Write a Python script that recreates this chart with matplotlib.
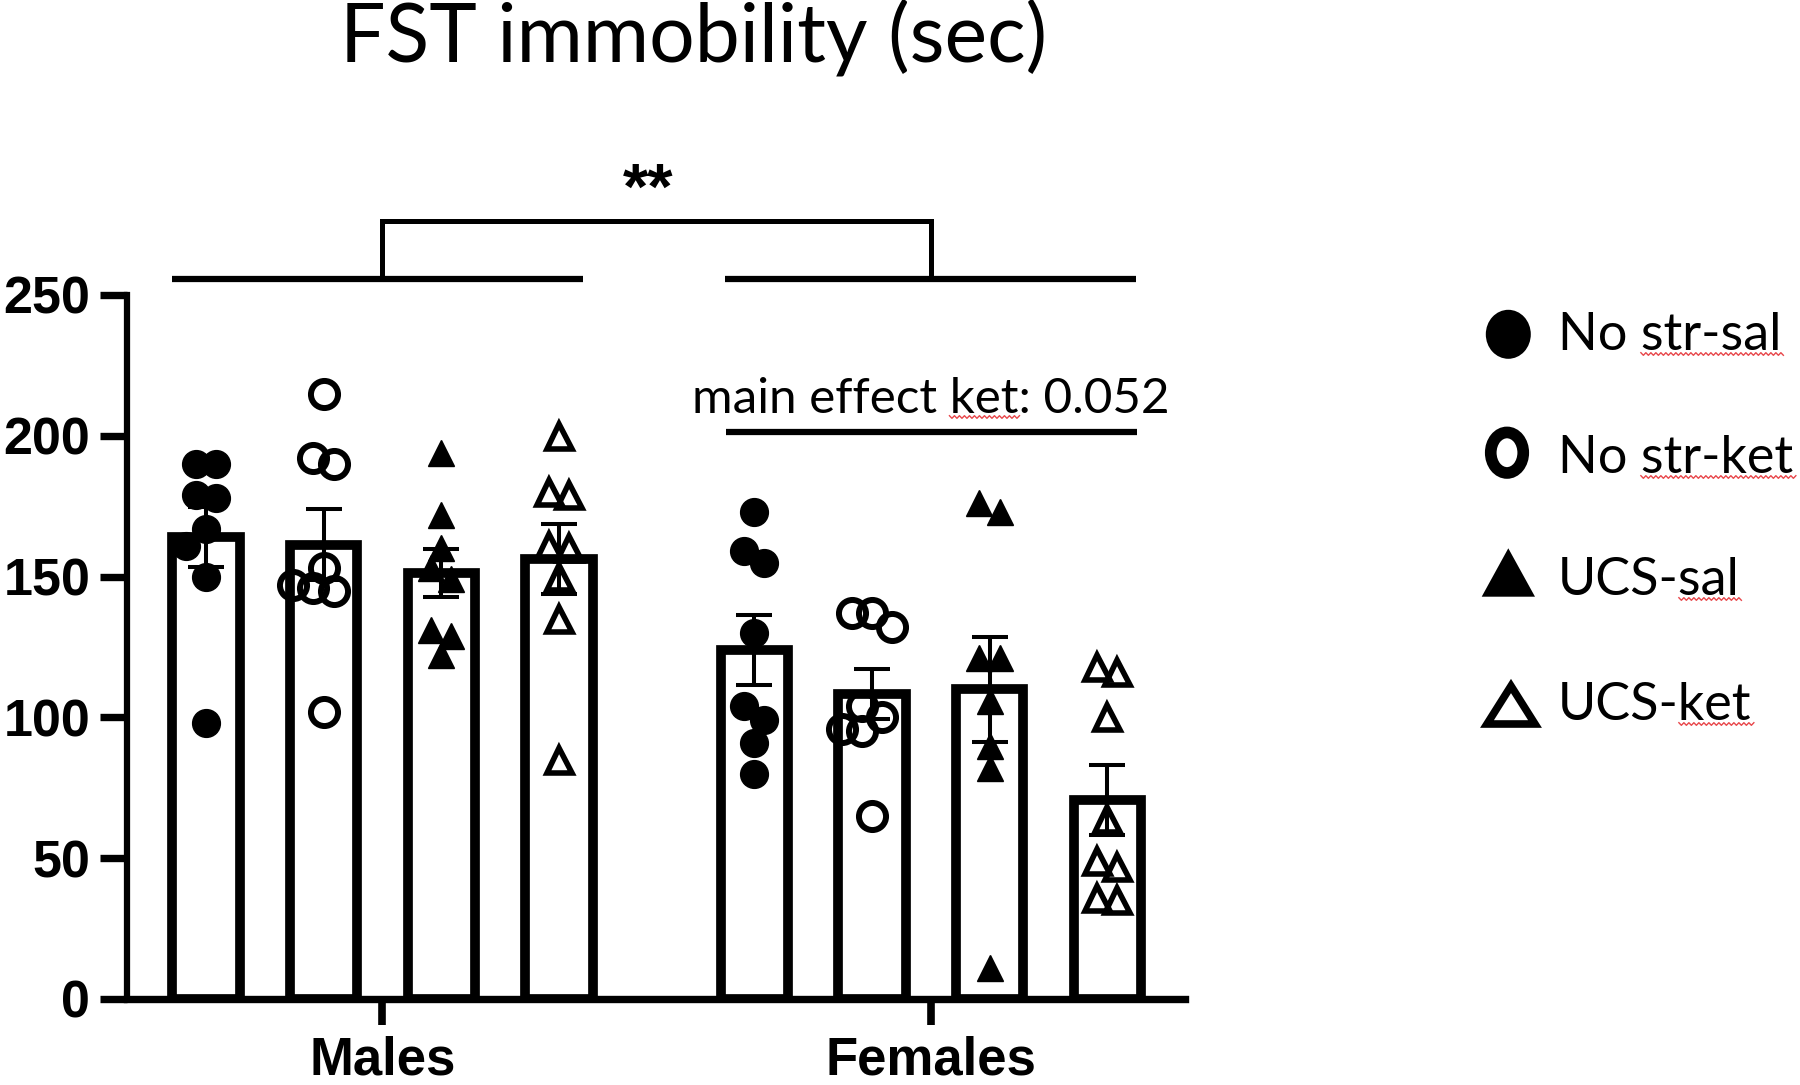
import numpy as np
import matplotlib
matplotlib.use('Agg')
import matplotlib.pyplot as plt
from matplotlib.patches import Ellipse, Polygon
from matplotlib.lines import Line2D
from matplotlib.transforms import IdentityTransform

# ---------------- data ----------------
groups = ['Males', 'Females']
conditions = ['No str-sal', 'No str-ket', 'UCS-sal', 'UCS-ket']

males_nostr_sal = [190, 190, 179, 178, 167, 161, 150, 98]
males_nostr_ket = [215, 192, 190, 153, 147, 146, 145, 102]
males_ucs_sal = [194, 172, 160, 153, 149, 131, 129, 122]
males_ucs_ket = [200, 180, 179, 161, 160, 150, 135, 85]

females_nostr_sal = [173, 159, 155, 130, 104, 99, 91, 80]
females_nostr_ket = [137, 137, 132, 104, 100, 96, 95, 65]
females_ucs_sal = [176, 173, 121, 121, 106, 90, 82, 11]
females_ucs_ket = [118, 116, 100, 64, 49, 47, 36, 35]

yticks = [0, 50, 100, 150, 200, 250]
title_text = 'FST immobility (sec)'
sig_text = '**'
ket_text = 'main effect ket: 0.052'

series = [males_nostr_sal, males_nostr_ket, males_ucs_sal, males_ucs_ket,
          females_nostr_sal, females_nostr_ket, females_ucs_sal, females_ucs_ket]

# ---------------- layout ----------------
W, H = 1800, 1085
fig = plt.figure(figsize=(W / 100, H / 100), dpi=100)
fig.patch.set_facecolor('white')


def fx(px):
    return px / W


def fy(py):
    return 1 - py / H


ax_left, ax_right, ax_bottom, ax_top = 127, 1185, 999, 295
ax = fig.add_axes([fx(ax_left), fy(ax_bottom), (ax_right - ax_left) / W, (ax_bottom - ax_top) / H])
xlim = (-0.67, 8.32)
ylim = (0, 250)
ax.set_xlim(*xlim)
ax.set_ylim(*ylim)

gap = 4.66
positions = list(np.arange(4)) + list(gap + np.arange(4))
group_centers = [1.5, gap + 1.5]

ppx = (ax_right - ax_left) / (xlim[1] - xlim[0])
ppy = (ax_bottom - ax_top) / (ylim[1] - ylim[0])

SANS_BOLD = 'Liberation Sans'
TEXT_FONT = 'Lato'


def swarm(vals, diam_px):
    """Row-based beeswarm offsets (in data x units)."""
    vals = np.asarray(vals, float)
    order = np.argsort(-vals, kind='stable')
    offs = np.zeros(len(vals))
    placed = []
    thr = 0.5 * diam_px / ppy
    sp = 0.7 * diam_px
    mind = 0.75 * diam_px
    i = 0
    while i < len(order):
        row = [order[i]]
        j = i + 1
        while j < len(order) and vals[order[i]] - vals[order[j]] < thr:
            row.append(order[j])
            j += 1
        n = len(row)
        base = [(k - (n - 1) / 2) * sp for k in range(n)]
        shifts = [0]
        for k in range(1, 12):
            shifts += [-k * sp / 2, k * sp / 2]
        for s in shifts:
            ok = True
            for idx, b in zip(row, base):
                for (px, py) in placed:
                    if np.hypot(b + s - px, vals[idx] * ppy - py) < mind:
                        ok = False
                        break
                if not ok:
                    break
            if ok:
                break
        for idx, b in zip(row, base):
            offs[idx] = (b + s) / ppx
            placed.append((b + s, vals[idx] * ppy))
        i = j
    return offs


marker_styles = [
    dict(marker='o', markerfacecolor='black', markeredgecolor='black', markersize=20, markeredgewidth=1),
    dict(marker='o', markerfacecolor='none', markeredgecolor='black', markersize=19.5, markeredgewidth=4.3),
    dict(marker='^', markerfacecolor='black', markeredgecolor='black', markersize=19, markeredgewidth=1),
    dict(marker='^', markerfacecolor='none', markeredgecolor='black', markersize=18, markeredgewidth=4.0),
]

bar_width = 0.573
for k, (pos, vals) in enumerate(zip(positions, series)):
    vals = np.asarray(vals, float)
    mean = vals.mean()
    sem = vals.std(ddof=1) / np.sqrt(len(vals))
    ax.bar(pos, mean, width=bar_width, facecolor='white', edgecolor='black',
           linewidth=7, zorder=1)
    st = marker_styles[k % 4]
    offs = swarm(vals, 29)
    ax.plot(pos + offs, vals, linestyle='none', zorder=2, clip_on=False, **st)
    ax.errorbar(pos, mean, yerr=sem, fmt='none', ecolor='black', elinewidth=2.9,
                capsize=13.3, capthick=2.9, zorder=3, clip_on=False)

# axes styling
for s in ['top', 'right']:
    ax.spines[s].set_visible(False)
ax.spines['left'].set_linewidth(4.5)
ax.spines['bottom'].set_linewidth(5.3)
ax.set_yticks(yticks)
ax.set_yticklabels([str(v) for v in yticks])
ax.set_xticks(group_centers)
ax.set_xticklabels(groups)
ax.tick_params(axis='y', length=19.4, width=5.3, pad=7, labelsize=37.5)
ax.tick_params(axis='x', length=19, width=5.5, pad=7.5, labelsize=38)
for lbl in ax.get_yticklabels() + ax.get_xticklabels():
    lbl.set_fontweight('bold')
    lbl.set_family(SANS_BOLD)

# significance annotations
lw_sig = 4.5
line_y = 255.7
bracket_y = 276.3
ax.plot([-0.287, 3.205], [line_y, line_y], color='black', lw=lw_sig, clip_on=False, solid_capstyle='butt')
ax.plot([4.41, 7.90], [line_y, line_y], color='black', lw=lw_sig, clip_on=False, solid_capstyle='butt')
ax.plot([group_centers[0], group_centers[0], group_centers[1], group_centers[1]],
        [line_y, bracket_y, bracket_y, line_y], color='black', lw=3.6, clip_on=False,
        solid_joinstyle='miter')
ax.text(3.757, 286.5, sig_text, ha='center', va='center', fontsize=47, fontweight='bold',
        family=SANS_BOLD, clip_on=False)

ket_line_y = 201.5
ax.plot([4.417, 7.91], [ket_line_y, ket_line_y], color='black', lw=4.5, clip_on=False, solid_capstyle='butt')
ket_t = fig.text(fx(691.7), fy(413), ket_text, ha='left', va='baseline', fontsize=35.6, family=TEXT_FONT)

# title
fig.text(fx(694), fy(61), title_text, ha='center', va='baseline', fontsize=58, family=TEXT_FONT)

# legend (drawn manually)
inch = fig.dpi_scale_trans


def pin(px, py):
    return (px / 100, (H - py) / 100)


fig.add_artist(Ellipse(pin(1508.3, 334.3), 0.45, 0.49, transform=inch, facecolor='black', edgecolor='none'))
fig.add_artist(Ellipse(pin(1507, 452.7), 0.325, 0.405, transform=inch, facecolor='none',
                       edgecolor='black', linewidth=8.4))
fig.add_artist(Polygon([pin(1508.3, 548.3), pin(1481.7, 596.7), pin(1535, 596.7)], closed=True,
                       transform=inch, facecolor='black', edgecolor='none'))
fig.add_artist(Polygon([pin(1511, 686), pin(1487, 724), pin(1535, 724)], closed=True,
                       transform=inch, facecolor='none', edgecolor='black', linewidth=5.5,
                       joinstyle='miter'))

leg_baselines = [350, 473, 595, 720]
leg_texts = []
for lab, b in zip(conditions, leg_baselines):
    leg_texts.append(fig.text(fx(1558), fy(b), lab, ha='left', va='baseline', fontsize=37.6,
                              family=TEXT_FONT))

# red spell-check squiggles (as in the reference)
fig.canvas.draw()
renderer = fig.canvas.get_renderer()


def text_width(s, fp):
    t = fig.text(0, 0, s, fontproperties=fp)
    w = t.get_window_extent(renderer).width
    t.remove()
    return w


def squiggle(x0, x1, ybase):
    xs = np.arange(x0, x1 + 0.1, 2.5)
    ys = ybase + np.where(np.arange(len(xs)) % 2 == 0, 1.3, -1.3)
    fig.add_artist(Line2D(xs, ys, transform=IdentityTransform(), color='#e8464a', lw=1.0))


for t, word, b in zip(leg_texts, ['str-sal', 'str-ket', 'sal', 'ket'], leg_baselines):
    bb = t.get_window_extent(renderer)
    fp = t.get_fontproperties()
    wsuf = text_width(word, fp)
    squiggle(bb.x1 - wsuf, bb.x1 + 3, H - (b + 4))

bbk = ket_t.get_window_extent(renderer)
fpk = ket_t.get_fontproperties()
xe = bbk.x0 + text_width('main effect ket', fpk)
squiggle(xe - text_width('ket', fpk), xe + 2, H - 417)

fig.savefig('out.png', dpi=100, facecolor='white')
